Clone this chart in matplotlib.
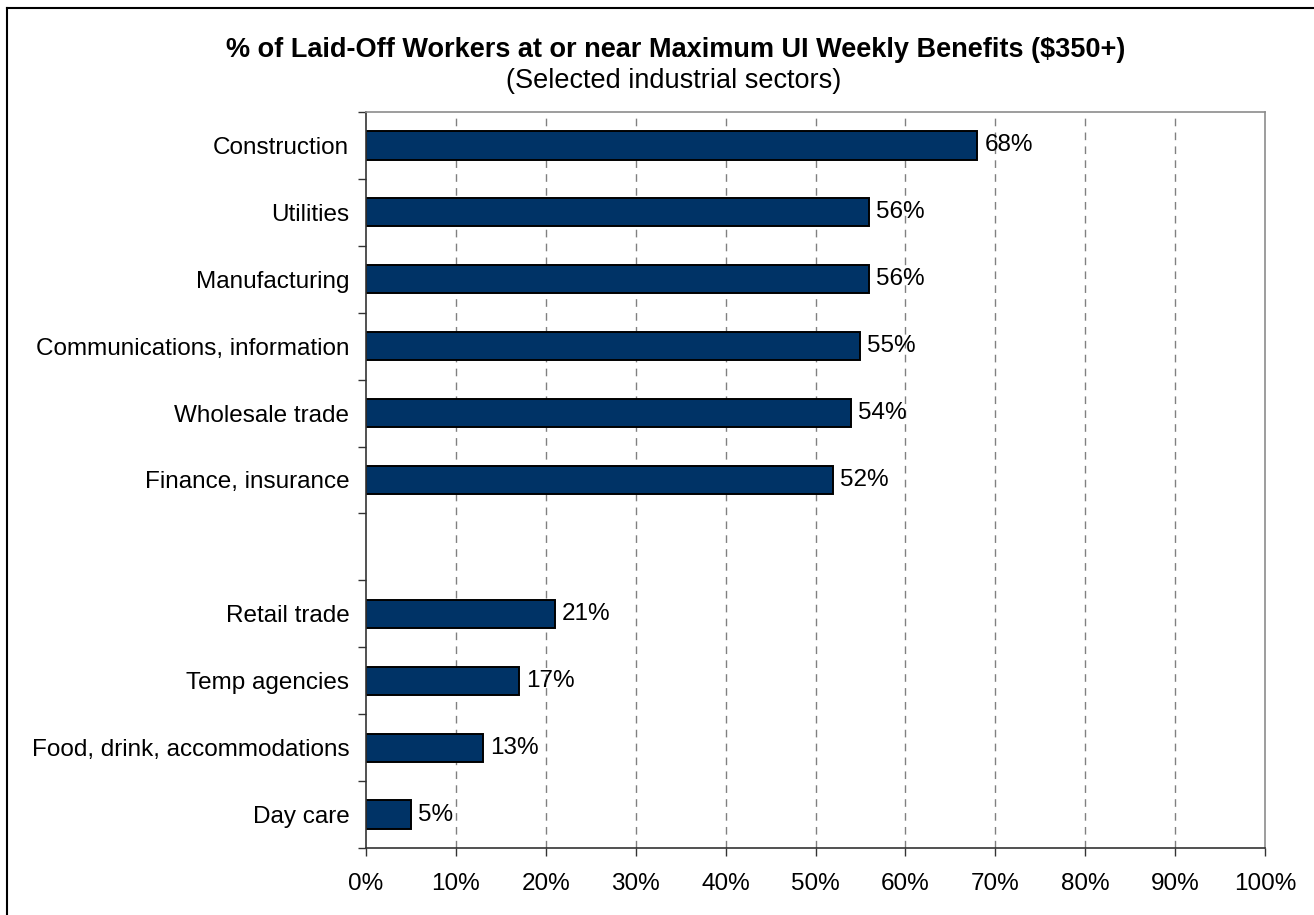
import matplotlib
matplotlib.use("Agg")
import matplotlib.pyplot as plt
import numpy as np
from matplotlib.lines import Line2D

plt.rcParams['font.family'] = ['Liberation Sans', 'DejaVu Sans']

title = "% of Laid-Off Workers at or near Maximum UI Weekly Benefits ($350+)"
subtitle = "(Selected industrial sectors)"

categories = ["Construction", "Utilities", "Manufacturing", "Communications, information",
              "Wholesale trade", "Finance, insurance", "",
              "Retail trade", "Temp agencies", "Food, drink, accommodations", "Day care"]
values = [68, 56, 56, 55, 54, 52, None, 21, 17, 13, 5]
xticks = [0, 10, 20, 30, 40, 50, 60, 70, 80, 90, 100]
xtick_labels = [f"{v}%" for v in xticks]

W, H = 1314, 915
fig = plt.figure(figsize=(W / 100, H / 100), dpi=100)
ax = fig.add_axes([366 / W, 1 - 848 / H, (1265 - 366) / W, (848 - 112) / H])

FS = 17.5
bar_color = "#003366"
pos = np.arange(len(categories))
for p, v in zip(pos, values):
    if v is None:
        continue
    ax.barh(p, v, height=0.42, color=bar_color, edgecolor="black", linewidth=1.4, zorder=3)
    ax.annotate(f"{v}%", xy=(v, p), xytext=(5, 0), textcoords="offset points",
                ha="left", va="center", fontsize=FS, color="black", zorder=4)

ax.set_xlim(0, 100)
ax.set_ylim(len(categories) - 0.5, -0.5)

ax.set_xticks(xticks)
ax.set_xticklabels(xtick_labels, fontsize=FS)
ax.set_yticks(pos)
ax.set_yticklabels(categories, fontsize=FS)
ax.set_yticks(np.arange(-0.5, len(categories) + 0.5, 1), minor=True)

ax.tick_params(axis="y", which="major", length=0, pad=12)
ax.tick_params(axis="y", which="minor", length=6, width=1.0, color="#333333", direction="out")
ax.tick_params(axis="x", which="major", length=6, width=1.0, color="#333333", direction="out", pad=12)

for v in xticks[1:-1]:
    ax.axvline(v, color="#808080", linewidth=1.0, linestyle=(0, (5.5, 4.5)), zorder=1)

ax.spines["left"].set_color("#333333")
ax.spines["bottom"].set_color("#333333")
ax.spines["left"].set_linewidth(1.2)
ax.spines["bottom"].set_linewidth(1.2)
ax.spines["top"].set_color("#8c8c8c")
ax.spines["right"].set_color("#8c8c8c")
ax.spines["top"].set_linewidth(1.2)
ax.spines["right"].set_linewidth(1.2)
for s in ax.spines.values():
    s.set_zorder(5)

fig.text(676 / W, 1 - 50 / H, title, ha="center", va="center", fontsize=19.5, fontweight="bold")
fig.text(674 / W, 1 - 81 / H, subtitle, ha="center", va="center", fontsize=19.5)

# outer border (left and top visible)
fig.add_artist(Line2D([7 / W, 7 / W], [0, 1 - 8 / H], transform=fig.transFigure, color="black", linewidth=1.5))
fig.add_artist(Line2D([7 / W, 1], [1 - 8 / H, 1 - 8 / H], transform=fig.transFigure, color="black", linewidth=1.5))

fig.savefig("out.png", dpi=100)
